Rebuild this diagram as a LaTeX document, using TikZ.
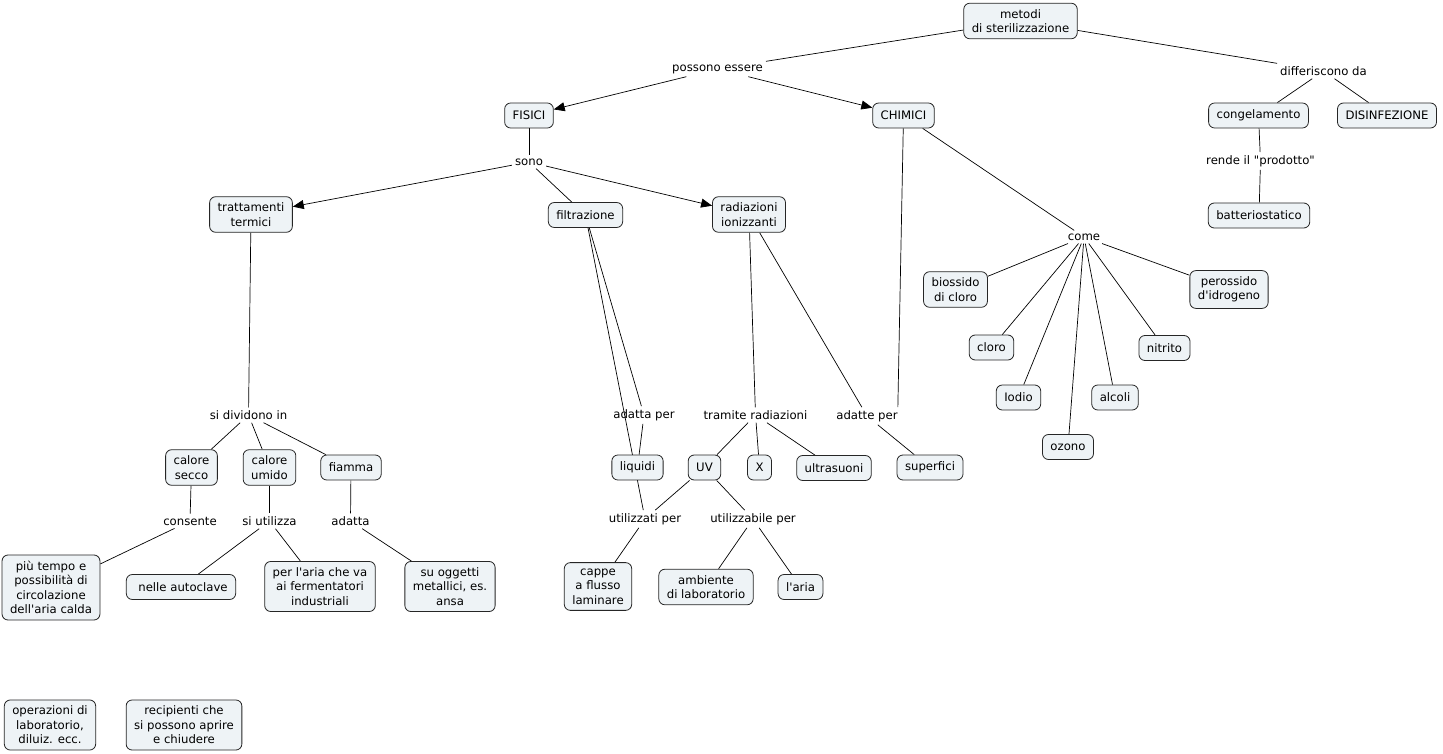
\documentclass[tikz,border=0pt]{standalone}
\usepackage{fontspec}
\setmainfont{DejaVu Sans}[Ligatures=TeXOff]
\usepackage{xcolor}
\usetikzlibrary{arrows.meta,backgrounds}
\definecolor{conceptfill}{HTML}{EEF3F6}

\begin{document}
\begin{tikzpicture}[x=1pt, y=-1pt,
    every node/.style={font=\fontsize{11.7}{14.5}\selectfont},
    concept/.style={draw=black!85, fill=conceptfill, rounded corners=6pt, align=center,
        inner xsep=8pt, inner ysep=6pt, minimum height=25pt, line width=0.8pt},
    phrase/.style={inner sep=3pt, align=center},
    link/.style={line width=0.7pt},
    arrowlink/.style={link, -{Triangle[length=11pt,width=9pt]}}]
    \useasboundingbox (0,0) rectangle (1443,754);

    % Root
    \node[concept] (metodi) at (1020.5,21) {metodi\\di sterilizzazione};
    \node[phrase] (possono) at (717.5,69) {possono essere};
    \node[phrase] (differiscono) at (1323.5,71) {differiscono da};

    % Level 1
    \node[concept] (fisici) at (529,115.5) {FISICI};
    \node[concept] (chimici) at (903.5,115.5) {CHIMICI};
    \node[concept] (congelamento) at (1258.5,115.5) {congelamento};
    \node[concept] (disinfezione) at (1387,115.5) {DISINFEZIONE};
    \node[phrase] (rende) at (1260.5,161) {rende il "prodotto"};
    \node[concept] (batteriostatico) at (1259,215.5) {batteriostatico};

    % Level 2 - fisici
    \node[phrase] (sono) at (529,162) {sono};
    \node[concept] (trattamenti) at (251,214.5) {trattamenti\\termici};
    \node[concept] (filtrazione) at (585.5,215) {filtrazione};
    \node[concept] (radiazioni) at (749,214.5) {radiazioni\\ionizzanti};

    % Level 2 - chimici
    \node[phrase] (come) at (1084,237) {come};
    \node[concept] (biossido) at (955.5,289.5) {biossido\\di cloro};
    \node[concept] (perossido) at (1229,289.5) {perossido\\d'idrogeno};
    \node[concept] (cloro) at (991.5,347.5) {cloro};
    \node[concept] (nitrito) at (1164.5,348) {nitrito};
    \node[concept] (iodio) at (1018.5,397.5) {Iodio};
    \node[concept] (alcoli) at (1115,397.5) {alcoli};
    \node[concept] (ozono) at (1068,447) {ozono};

    % Level 3
    \node[phrase] (dividono) at (248.5,415) {si dividono in};
    \node[phrase] (adattaper) at (644,415) {adatta per};
    \node[phrase] (tramite) at (755.5,415) {tramite radiazioni};
    \node[phrase] (adatteper) at (867,416) {adatte per};

    \node[concept] (secco) at (191.5,467.5) {calore\\secco};
    \node[concept] (umido) at (269.5,467.5) {calore\\umido};
    \node[concept] (fiamma) at (351,467.5) {fiamma};
    \node[concept] (liquidi) at (637.5,467.5) {liquidi};
    \node[concept] (uv) at (704.5,467.5) {UV};
    \node[concept] (raggix) at (759.5,467.5) {X};
    \node[concept] (ultrasuoni) at (834,468) {ultrasuoni};
    \node[concept] (superfici) at (930,467.5) {superfici};

    % Level 4
    \node[phrase] (consente) at (190,521) {consente};
    \node[phrase] (utilizza) at (269.5,521) {si utilizza};
    \node[phrase] (adatta) at (350.5,521) {adatta};
    \node[phrase] (utilizzati) at (645,519) {utilizzati per};
    \node[phrase] (utilizzabile) at (753,519) {utilizzabile per};

    \node[concept] (tempo) at (51,587.5) {più tempo e\\possibilità di\\circolazione\\dell'aria calda};
    \node[concept] (autoclave) at (181,587) {\hspace{4pt}nelle autoclave};
    \node[concept] (fermentatori) at (320,586.5) {per l'aria che va\\ai fermentatori\\industriali};
    \node[concept] (oggetti) at (450,586.5) {su oggetti\\metallici, es.\\ansa};
    \node[concept] (cappe) at (598,586.5) {cappe\\a flusso\\laminare};
    \node[concept] (ambiente) at (706,587) {ambiente\\di laboratorio};
    \node[concept] (aria) at (800.5,587) {l'aria};

    % loose concepts
    \node[concept] (operazioni) at (50,725) {operazioni di\\laboratorio,\\diluiz. ecc.};
    \node[concept] (recipienti) at (184,725) {recipienti che\\si possono aprire\\e chiudere};

    % Links
    \begin{scope}[on background layer]
        \draw[link] (metodi) -- (possono);
        \draw[arrowlink] (possono) -- (fisici);
        \draw[arrowlink] (possono) -- (chimici);
        \draw[link] (metodi) -- (differiscono);
        \draw[link] (differiscono) -- (congelamento);
        \draw[link] (differiscono) -- (disinfezione);
        \draw[link] (congelamento) -- (rende);
        \draw[link] (rende) -- (batteriostatico);

        \draw[link] (fisici) -- (sono);
        \draw[arrowlink] (sono) -- (trattamenti);
        \draw[link] (sono) -- (filtrazione);
        \draw[arrowlink] (sono) -- (radiazioni);

        \draw[link] (chimici) -- (come);
        \draw[link] (chimici) -- ([xshift=-3pt]adatteper.north east);
        \foreach \n in {biossido,cloro,iodio,ozono,alcoli,nitrito,perossido}
            \draw[link] (come) -- (\n);

        \draw[link] (trattamenti) -- (dividono);
        \foreach \n in {secco,umido,fiamma}
            \draw[link] (dividono) -- (\n);
        \draw[link] (secco) -- (consente);
        \draw[link] (consente) -- (tempo);
        \draw[link] (umido) -- (utilizza);
        \draw[link] (utilizza) -- (autoclave);
        \draw[link] (utilizza) -- (fermentatori);
        \draw[link] (fiamma) -- (adatta);
        \draw[link] (adatta) -- (oggetti);

        \draw[link] (filtrazione) -- (adattaper);
        \draw[link] (adattaper) -- (liquidi);
        \draw[link] (filtrazione) -- (utilizzati);
        \draw[link] (uv) -- (utilizzati);
        \draw[link] (utilizzati) -- (cappe);

        \draw[link] (radiazioni) -- (tramite);
        \draw[link] (radiazioni) -- (adatteper);
        \foreach \n in {uv,raggix,ultrasuoni}
            \draw[link] (tramite) -- (\n);
        \draw[link] (adatteper) -- (superfici);
        \draw[link] (uv) -- (utilizzabile);
        \draw[link] (utilizzabile) -- (ambiente);
        \draw[link] (utilizzabile) -- (aria);
    \end{scope}
\end{tikzpicture}
\end{document}
